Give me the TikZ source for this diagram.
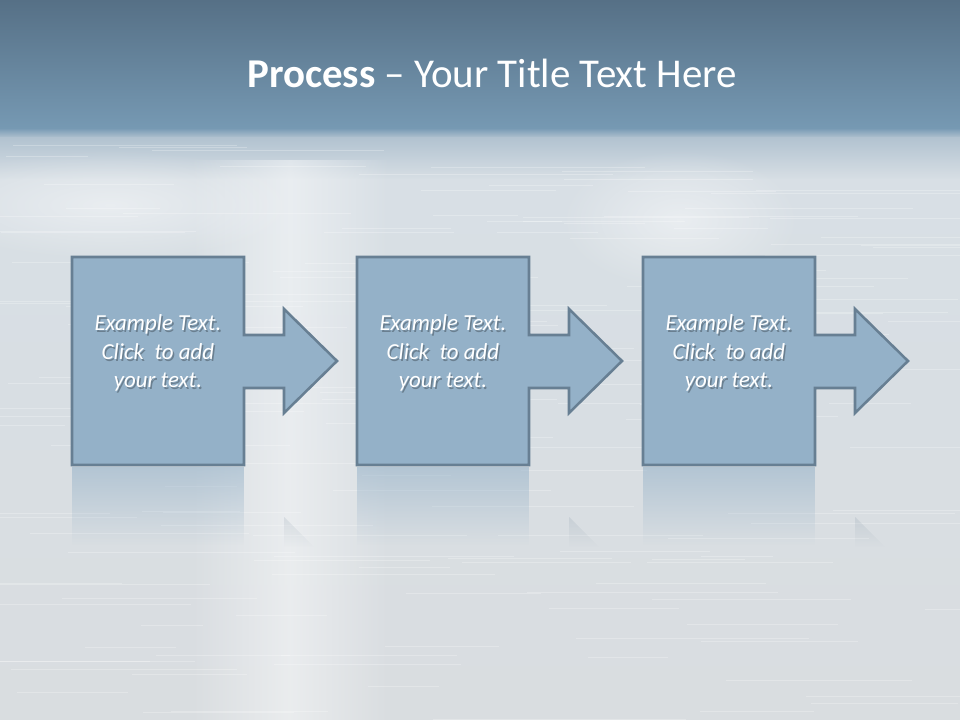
\documentclass[tikz,border=0pt]{standalone}
\usepackage{fontspec}
\setmainfont{Carlito}
\usetikzlibrary{fadings}
\definecolor{barTop}{HTML}{567086}
\definecolor{barBot}{HTML}{7699B3}
\definecolor{silverA}{HTML}{B2C3D0}
\definecolor{silverB}{HTML}{D8DFE5}
\definecolor{silverC}{HTML}{D9DDE0}
\definecolor{stepFill}{HTML}{94B1C8}
\definecolor{stepLine}{HTML}{677F93}
\tikzfading[name=band, left color=transparent!100, right color=transparent!100, middle color=transparent!0]
\tikzfading[name=spot, inner color=transparent!0, outer color=transparent!100]
\tikzset{
  steptext/.style={text=white, font=\fontsize{17.2}{21.5}\selectfont\itshape, align=center},
  stepshadow/.style={text=black, text opacity=0.28, font=\fontsize{17.2}{21.5}\selectfont\itshape, align=center},
  stepshape/.style={fill=stepFill, draw=stepLine, line width=1.9pt, line join=miter}
}
\begin{document}
\begin{tikzpicture}[x=0.75pt,y=-0.75pt]
    \useasboundingbox (0,0) rectangle (960,720);
    % background
    \shade[top color=barBot, bottom color=silverA] (0,128) rectangle (960,138);
    \shade[top color=silverA, bottom color=silverB] (0,138) rectangle (960,180);
    \shade[top color=silverB, bottom color=silverC] (0,180) rectangle (960,720);
    \fill[white, fill opacity=0.45, path fading=band] (190,160) rectangle (390,720);
    \fill[white, fill opacity=0.45, path fading=spot] (560,150) rectangle (800,290);
    \fill[white, fill opacity=0.45, path fading=spot] (-80,150) rectangle (300,260);
    \pgfmathsetseed{7}
    \foreach \k in {1,...,160} {
      \pgfmathsetmacro{\ly}{145+575*rnd}
      \pgfmathsetmacro{\lx}{960*rnd}
      \pgfmathsetmacro{\lw}{60+200*rnd}
      \draw[white, opacity=0.25, line width=0.5pt] (\lx-\lw/2,\ly) -- (\lx+\lw/2,\ly);
    }
    % title bar
    \shade[top color=barTop, bottom color=barBot] (0,0) rectangle (960,128.5);
    \node[anchor=base, text=white, font=\fontsize{30.7}{36}\selectfont] (title) at (492,88)
      {\textbf{Process} -- Your Title Text Here};
    % steps
    \foreach \i/\x in {1/72,2/357,3/643} {
      \fill[stepFill, fill opacity=0.55, path fading=south] (\x,467) rectangle (\x+172,545);
      \fill[stepLine, fill opacity=0.15, path fading=south] (\x+212,517) -- (\x+242,547) -- (\x+212,547) -- cycle;
      \draw[stepshape] (\x,257) -- (\x+172,257) -- (\x+172,335) -- (\x+212,335)
        -- (\x+212,309) -- (\x+265,361) -- (\x+212,413) -- (\x+212,388)
        -- (\x+172,388) -- (\x+172,465) -- (\x,465) -- cycle;
      \node[stepshadow] (shadow\i) at (\x+87.5,355) {Example Text.\\Click~ to add\\your text.};
      \node[steptext] (step\i) at (\x+86,353) {Example Text.\\Click~ to add\\your text.};
    }
  \end{tikzpicture}
\end{document}
